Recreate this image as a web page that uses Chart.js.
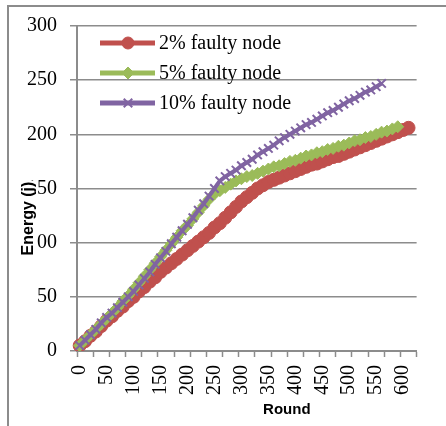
<!DOCTYPE html>
<html>
<head>
<meta charset="utf-8">
<script src="https://cdn.jsdelivr.net/npm/chart.js@4.4.1/dist/chart.umd.min.js"></script>
<style>
  html, body { margin: 0; padding: 0; background: #fff; }
  #wrap { position: relative; width: 446px; height: 426px; overflow: hidden; }
  /* moldura cinza do grafico (cortada a direita e embaixo) */
  #frame { position: absolute; left: 7px; top: 5px; width: 470px; height: 450px;
           border-left: 2px solid #8c8c8c; border-top: 2px solid #8c8c8c; }
  canvas { position: absolute; left: 0; top: 0; }
</style>
</head>
<body>
<div id="wrap">
  <div id="frame"></div>
  <canvas id="grafico" width="446" height="426"></canvas>
</div>
<script>
// rodadas (eixo x, categorias)
const rounds = [0, 10, 20, 30, 40, 50, 60, 70, 80, 90,
  100, 110, 120, 130, 140, 150, 160, 170, 180, 190,
  200, 210, 220, 230, 240, 250, 260, 270, 280, 290,
  300, 310, 320, 330, 340, 350, 360, 370, 380, 390,
  400, 410, 420, 430, 440, 450, 460, 470, 480, 490,
  500, 510, 520, 530, 540, 550, 560, 570, 580, 590,
  600, 610, 620];

// energia (j) por serie
const faulty2 = [5, 9, 14, 18, 23, 28, 32, 37, 41, 46,
  50, 55, 59, 64, 68, 73, 77, 81, 85, 89,
  93, 97, 101, 105, 109, 114, 118, 123, 128, 133,
  138, 142, 146, 150, 153, 156, 158, 160, 162, 164,
  166, 168, 170, 172, 173, 175, 177, 179, 180, 182,
  184, 186, 188, 190, 192, 194, 196, 198, 200, 202,
  204, 206];

const faulty5 = [5, 10, 15, 20, 25, 30, 35, 40, 46, 51,
  57, 63, 69, 75, 81, 87, 93, 99, 105, 111,
  116, 122, 128, 134, 140, 145, 148, 151, 154, 157,
  159, 161, 162, 164, 166, 168, 170, 171, 173, 175,
  176, 178, 180, 181, 183, 184, 186, 187, 189, 190,
  192, 194, 195, 197, 198, 200, 202, 203, 205, 207];

const faulty10 = [5, 10, 15, 20, 26, 31, 35, 40, 45, 50,
  55, 61, 67, 73, 80, 86, 92, 99, 105, 111,
  117, 123, 130, 136, 143, 150, 157, 161, 164, 167,
  171, 174, 177, 181, 184, 187, 190, 194, 197, 200,
  203, 206, 209, 211, 214, 217, 220, 222, 225, 228,
  231, 233, 236, 239, 241, 244, 247];

const seriesLabels = ['2% faulty node', '5% faulty node', '10% faulty node'];
const yTicks = [0, 50, 100, 150, 200, 250, 300];

const cinza = '#8c8c8c';
const fonteSerif = 'Liberation Serif';

// legenda desenhada dentro da area do grafico, estilo Excel (linha + marcador)
const legendaInterna = {
    id: 'legendaInterna',
    afterDatasetsDraw(chart) {
        const { ctx, chartArea } = chart;
        const x0 = chartArea.left + 23;
        chart.data.datasets.forEach((ds, i) => {
            const y = chartArea.top + 17 + i * 30;
            ctx.save();
            ctx.strokeStyle = ds.borderColor;
            ctx.lineWidth = 5;
            ctx.beginPath();
            ctx.moveTo(x0, y);
            ctx.lineTo(x0 + 55, y);
            ctx.stroke();
            ctx.fillStyle = ds.backgroundColor;
            ctx.lineWidth = ds.pointBorderWidth;
            Chart.helpers.drawPoint(ctx, {
                pointStyle: ds.pointStyle,
                radius: 6,
                rotation: 0,
                borderWidth: ds.pointBorderWidth
            }, x0 + 28, y);
            ctx.fillStyle = '#000';
            ctx.font = '20px "' + fonteSerif + '"';
            ctx.textAlign = 'left';
            ctx.textBaseline = 'middle';
            ctx.fillText(ds.label, x0 + 59, y + 1);
            ctx.restore();
        });
    }
};

// titulos dos eixos (deslocados do centro como no original)
const titulosEixos = {
    id: 'titulosEixos',
    afterDraw(chart) {
        const { ctx, chartArea } = chart;
        ctx.save();
        ctx.font = 'bold 15px "Liberation Sans"';
        ctx.textAlign = 'center';
        ctx.textBaseline = 'middle';
        ctx.fillStyle = '#000';
        ctx.fillText('Round', (chartArea.left + chartArea.right) / 2 + 40, chartArea.bottom + 59);

        ctx.font = 'bold 16px "Liberation Sans"';
        ctx.translate(chartArea.left - 48, (chartArea.top + chartArea.bottom) / 2 + 30);
        ctx.rotate(-Math.PI / 2);
        const w = ctx.measureText('Energy (j)').width;
        ctx.fillStyle = '#fff';
        ctx.fillRect(-w / 2 - 1, -7, w + 2, 14);
        ctx.fillStyle = '#000';
        ctx.fillText('Energy (j)', 0, 0);
        ctx.restore();
    }
};

const ctx = document.getElementById('grafico');

new Chart(ctx, {
    type: 'line',
    data: {
        labels: rounds,
        datasets: [{
            label: seriesLabels[0],
            data: faulty2,
            borderColor: '#C0504D',
            backgroundColor: '#C0504D',
            borderWidth: 4,
            pointStyle: 'circle',
            pointRadius: 6.5,
            pointBorderWidth: 1,
            order: 2
        }, {
            label: seriesLabels[1],
            data: faulty5,
            borderColor: '#9BBB59',
            backgroundColor: '#9BBB59',
            borderWidth: 4,
            pointStyle: 'rectRot',
            pointRadius: 6,
            pointBorderWidth: 1,
            order: 1
        }, {
            label: seriesLabels[2],
            data: faulty10,
            borderColor: '#8064A2',
            backgroundColor: '#8064A2',
            borderWidth: 4,
            pointStyle: 'crossRot',
            pointRadius: 6,
            pointBorderWidth: 2,
            order: 0
        }]
    },
    options: {
        responsive: false,
        animation: false,
        devicePixelRatio: 1,
        events: [],
        layout: {
            padding: { left: 0, top: 26, right: 10, bottom: 0 }
        },
        plugins: {
            legend: { display: false },
            tooltip: { enabled: false },
            title: { display: false }
        },
        scales: {
            x: {
                type: 'category',
                offset: true,
                grid: {
                    display: true,
                    offset: true,
                    drawOnChartArea: false,
                    drawTicks: true,
                    tickLength: 6,
                    tickWidth: 1.5,
                    // marca de tick a cada 3 categorias
                    tickColor: c => (c.index === undefined || c.index % 3 === 0) ? cinza : 'rgba(0,0,0,0)'
                },
                border: { display: true, color: cinza, width: 2 },
                ticks: {
                    autoSkip: false,
                    minRotation: 90,
                    maxRotation: 90,
                    padding: 8,
                    color: '#000',
                    font: { family: fonteSerif, size: 20 },
                    // rotulo a cada 5 categorias
                    callback: function (v, i) {
                        return i % 5 === 0 ? this.getLabelForValue(v) : '';
                    }
                },
                afterFit: s => { s.height = 75; }
            },
            y: {
                min: yTicks[0],
                max: yTicks[yTicks.length - 1],
                afterBuildTicks: s => { s.ticks = yTicks.map(v => ({ value: v })); },
                grid: {
                    color: cinza,
                    lineWidth: 1.5,
                    tickLength: 7,
                    tickColor: cinza
                },
                border: { display: true, color: cinza, width: 2 },
                ticks: {
                    padding: 13,
                    color: '#000',
                    font: { family: fonteSerif, size: 20 }
                },
                afterFit: s => { s.width = 77; }
            }
        }
    },
    plugins: [legendaInterna, titulosEixos]
});
</script>
</body>
</html>
